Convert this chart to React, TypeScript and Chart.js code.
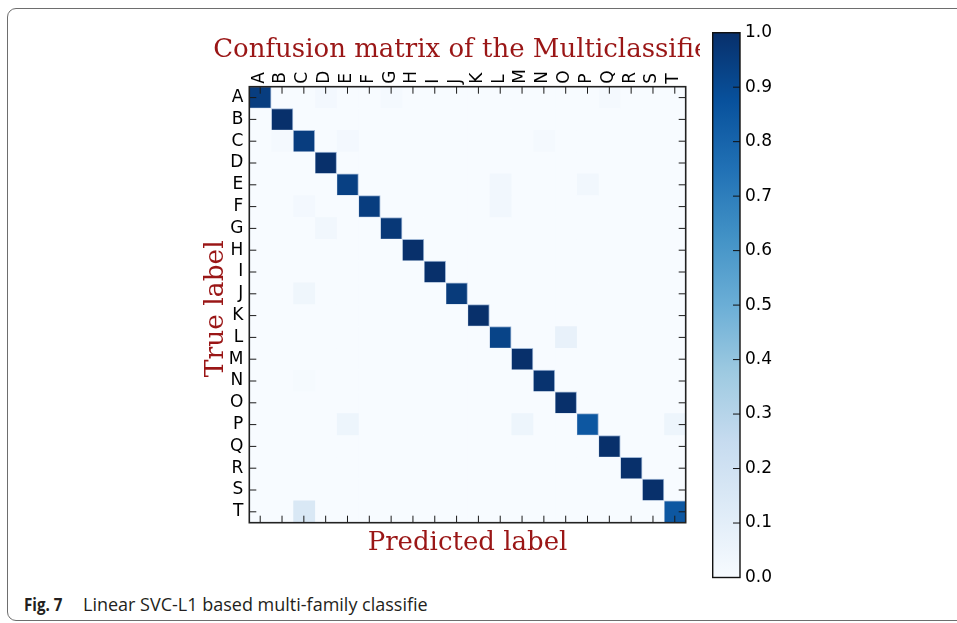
import React, { useEffect, useRef } from "react";
import { Chart, registerables } from "chart.js";

Chart.register(...registerables);

// ---------- data ----------
const trueLabels = ["A", "B", "C", "D", "E", "F", "G", "H", "I", "J", "K", "L", "M", "N", "O", "P", "Q", "R", "S", "T"];
const predictedLabels = ["A", "B", "C", "D", "E", "F", "G", "H", "I", "J", "K", "L", "M", "N", "O", "P", "Q", "R", "S", "T"];
// normalised share of each true class predicted as itself
const diagonalValues = [0.95, 1.0, 0.95, 1.0, 0.94, 0.95, 0.97, 1.0, 1.0, 0.96, 1.0, 0.925, 1.0, 0.99, 1.0, 0.85, 1.0, 1.0, 1.0, 0.85];
// [true label, predicted label, share] for the misclassifications
const offDiagonalValues: [string, string, number][] = [
  ["A", "D", 0.02], ["A", "G", 0.015], ["A", "Q", 0.015],
  ["C", "B", 0.015], ["C", "E", 0.02], ["C", "N", 0.015],
  ["E", "L", 0.03], ["E", "P", 0.03],
  ["F", "C", 0.02], ["F", "L", 0.03],
  ["G", "D", 0.03],
  ["J", "C", 0.04],
  ["L", "O", 0.075],
  ["N", "C", 0.01],
  ["P", "E", 0.05], ["P", "M", 0.05], ["P", "T", 0.05],
  ["T", "C", 0.15],
];
const colorbarTicks = [0.0, 0.1, 0.2, 0.3, 0.4, 0.5, 0.6, 0.7, 0.8, 0.9, 1.0];
const chartTitle = "Confusion matrix of the Multiclassifier";
const xAxisTitle = "Predicted label";
const yAxisTitle = "True label";
const captionBold = "Fig. 7";
const captionText = "Linear SVC-L1 based multi-family classifie";

// ---------- colour map (matplotlib "Blues") ----------
const BLUES = ["#f7fbff", "#deebf7", "#c6dbef", "#9ecae1", "#6baed6", "#4292c6", "#2171b5", "#08519c", "#08306b"];
const hexRgb = (h: string) => [1, 3, 5].map((k) => parseInt(h.slice(k, k + 2), 16));
function blues(v: number): string {
  const t = Math.max(0, Math.min(1, v)) * (BLUES.length - 1);
  const i = Math.min(Math.floor(t), BLUES.length - 2);
  const f = t - i;
  const a = hexRgb(BLUES[i]);
  const b = hexRgb(BLUES[i + 1]);
  const c = a.map((x, k) => Math.round(x + (b[k] - x) * f));
  return `rgb(${c[0]},${c[1]},${c[2]})`;
}

function buildMatrix(): number[][] {
  const m = trueLabels.map((_, i) => predictedLabels.map((_, j) => (i === j ? diagonalValues[i] : 0)));
  offDiagonalValues.forEach(([t, p, v]) => {
    m[trueLabels.indexOf(t)][predictedLabels.indexOf(p)] = v;
  });
  return m;
}

const DARK_RED = "#9a1616";
const SERIF = '"DejaVu Serif", serif';
const SANS = '"DejaVu Sans", sans-serif';
const TICK = 7;
const TICK_FONT = 17;

const matrixDecor = {
  id: "matrixDecor",
  afterDraw(chart: any) {
    const { ctx, chartArea: a, scales } = chart;
    const x = scales.x;
    const y = scales.y;
    ctx.save();
    ctx.strokeStyle = "#1a1a1a";
    ctx.lineWidth = 1;
    ctx.beginPath();
    x.ticks.forEach((t: any) => {
      const px = x.getPixelForValue(t.value);
      ctx.moveTo(px, a.top);
      ctx.lineTo(px, a.top + TICK);
      ctx.moveTo(px, a.bottom);
      ctx.lineTo(px, a.bottom - TICK);
    });
    y.ticks.forEach((_: any, i: number) => {
      const py = y.getPixelForTick(i);
      ctx.moveTo(a.left, py);
      ctx.lineTo(a.left + TICK, py);
      ctx.moveTo(a.right, py);
      ctx.lineTo(a.right - TICK, py);
    });
    ctx.stroke();
    ctx.lineWidth = 1.6;
    ctx.strokeStyle = "#222";
    ctx.strokeRect(a.left, a.top, a.right - a.left, a.bottom - a.top);

    const cx = (a.left + a.right) / 2;
    const cy = (a.top + a.bottom) / 2;
    ctx.fillStyle = DARK_RED;
    ctx.font = `26px ${SERIF}`;
    ctx.textAlign = "center";
    ctx.textBaseline = "alphabetic";
    ctx.fillText(chartTitle, cx, 56.7);
    ctx.fillText(xAxisTitle, cx, 550);
    ctx.translate(223.3, cy + 4);
    ctx.rotate(-Math.PI / 2);
    ctx.font = `26.5px ${SERIF}`;
    ctx.fillText(yAxisTitle, 0, 0);
    ctx.restore();
  },
};

const colorbarDecor = {
  id: "colorbarDecor",
  afterDraw(chart: any) {
    const { ctx, chartArea: a, scales } = chart;
    const y = scales.y;
    ctx.save();
    ctx.strokeStyle = "#111";
    ctx.lineWidth = 1;
    ctx.beginPath();
    y.ticks.forEach((t: any) => {
      const py = y.getPixelForValue(t.value);
      ctx.moveTo(a.right, py);
      ctx.lineTo(a.right - TICK, py);
    });
    ctx.stroke();
    ctx.lineWidth = 1.4;
    ctx.strokeRect(a.left, a.top, a.right - a.left, a.bottom - a.top);
    ctx.restore();
  },
};

export default function App() {
  const matrixRef = useRef<HTMLCanvasElement>(null);
  const barRef = useRef<HTMLCanvasElement>(null);

  useEffect(() => {
    const matrix = buildMatrix();
    const datasets = predictedLabels.map((p, j) => ({
      label: p,
      data: trueLabels.map(() => [j, j + 1]),
      backgroundColor: trueLabels.map((_, i) => blues(matrix[i][j])),
      borderColor: trueLabels.map((_, i) => (matrix[i][j] > 0.5 ? "rgba(150,175,210,0.9)" : blues(matrix[i][j]))),
      borderWidth: trueLabels.map((_, i) => (matrix[i][j] > 0.5 ? 1 : 0)),
      borderSkipped: false,
      grouped: false,
      barPercentage: 1,
      categoryPercentage: 1,
    }));

    const matrixChart = new Chart(matrixRef.current!, {
      type: "bar",
      data: { labels: trueLabels, datasets: datasets as any },
      options: {
        animation: false,
        responsive: false,
        indexAxis: "y",
        events: [],
        layout: { padding: { left: 0, top: 0, right: 700 - 685.7, bottom: 570 - 522.7 } },
        plugins: { legend: { display: false }, tooltip: { enabled: false }, title: { display: false } },
        scales: {
          x: {
            type: "linear",
            position: "top",
            min: 0,
            max: predictedLabels.length,
            afterBuildTicks: (s: any) => {
              s.ticks = predictedLabels.map((_, j) => ({ value: j + 0.5 }));
            },
            afterFit: (s: any) => {
              s.height = 86.7;
              s.paddingLeft = 0;
              s.paddingRight = 0;
            },
            ticks: {
              autoSkip: false,
              minRotation: 90,
              maxRotation: 90,
              padding: 3,
              labelOffset: TICK_FONT * 1.2 - 1,
              color: "#000",
              font: { family: SANS, size: TICK_FONT },
              callback: (_v: any, i: number) => predictedLabels[i],
            },
            grid: { display: false, drawTicks: false },
            border: { display: false },
          },
          y: {
            type: "category",
            position: "left",
            offset: true,
            afterFit: (s: any) => {
              s.width = 249.3;
              s.paddingTop = 0;
              s.paddingBottom = 0;
            },
            ticks: { autoSkip: false, padding: 6, color: "#000", font: { family: SANS, size: TICK_FONT } },
            grid: { display: false, drawTicks: false },
            border: { display: false },
          },
        },
      } as any,
      plugins: [matrixDecor],
    });

    const barChart = new Chart(barRef.current!, {
      type: "bar",
      data: {
        labels: [""],
        datasets: [
          {
            data: [[colorbarTicks[0], colorbarTicks[colorbarTicks.length - 1]]] as any,
            backgroundColor: (c: any) => {
              const chart = c.chart;
              const ys = chart.scales && chart.scales.y;
              if (!ys || !chart.chartArea) return BLUES[4];
              const y0 = ys.getPixelForValue(0);
              const y1 = ys.getPixelForValue(1);
              if (!Number.isFinite(y0) || !Number.isFinite(y1) || y0 === y1) return BLUES[4];
              const g = chart.ctx.createLinearGradient(0, y0, 0, y1);
              BLUES.forEach((col, i) => g.addColorStop(i / (BLUES.length - 1), col));
              return g;
            },
            borderWidth: 0,
            barPercentage: 1,
            categoryPercentage: 1,
          },
        ],
      },
      options: {
        animation: false,
        responsive: false,
        events: [],
        layout: { padding: { left: 12.7, top: 32.7, right: 0, bottom: 600 - 577.5 } },
        plugins: { legend: { display: false }, tooltip: { enabled: false } },
        scales: {
          x: { display: false },
          y: {
            type: "linear",
            position: "right",
            min: 0,
            max: 1,
            afterBuildTicks: (s: any) => {
              s.ticks = colorbarTicks.map((v) => ({ value: v }));
            },
            afterFit: (s: any) => {
              s.width = 60;
              s.paddingTop = 0;
              s.paddingBottom = 0;
            },
            ticks: {
              padding: 5,
              color: "#000",
              font: { family: SANS, size: TICK_FONT },
              callback: (v: any) => Number(v).toFixed(1),
            },
            grid: { display: false, drawTicks: false },
            border: { display: false },
          },
        },
      } as any,
      plugins: [colorbarDecor],
    });

    return () => {
      matrixChart.destroy();
      barChart.destroy();
    };
  }, []);

  const captionStyle: React.CSSProperties = {
    position: "absolute",
    top: 594,
    fontFamily: '"Open Sans", sans-serif',
    fontSize: 18,
    lineHeight: "20px",
    color: "#231f20",
    whiteSpace: "nowrap",
  };

  return (
    <div style={{ position: "fixed", left: 0, top: 0, width: 957, height: 623, overflow: "hidden", background: "#fff" }}>
      <div
        style={{
          position: "absolute",
          left: 7,
          top: 8,
          width: 1000,
          height: 611,
          border: "1px solid #6e6e6e",
          borderRadius: 9,
        }}
      />
      <canvas ref={matrixRef} width={700} height={570} style={{ position: "absolute", left: 0, top: 0 }} />
      <canvas ref={barRef} width={100} height={600} style={{ position: "absolute", left: 700, top: 0 }} />
      <div style={{ ...captionStyle, left: 24, fontWeight: 700, transform: "scaleX(0.84)", transformOrigin: "left center" }}>
        {captionBold}
      </div>
      <div style={{ ...captionStyle, left: 83 }}>{captionText}</div>
    </div>
  );
}
